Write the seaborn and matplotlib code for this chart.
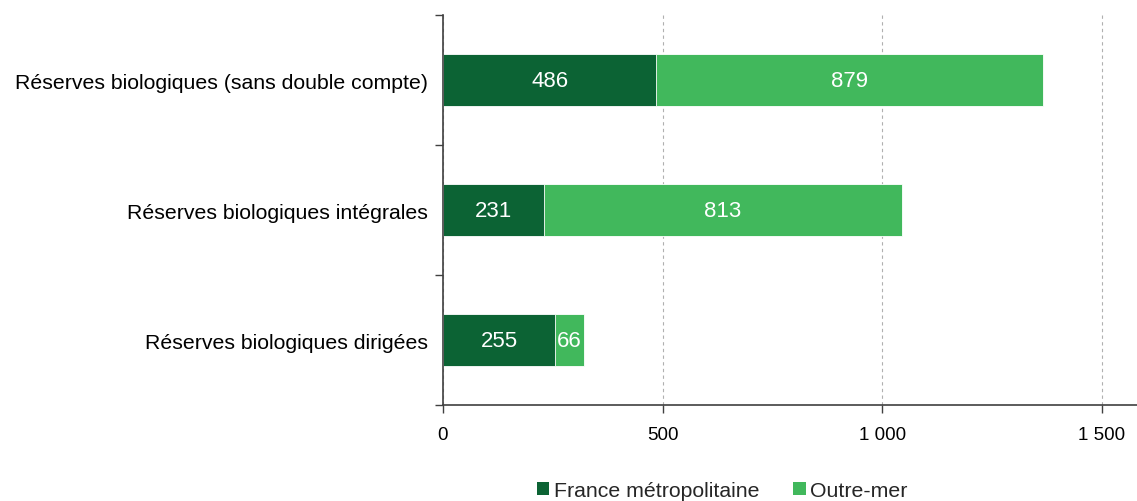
import matplotlib
matplotlib.use("Agg")
import matplotlib.pyplot as plt
import seaborn as sns
import pandas as pd
from matplotlib.patches import Patch
from matplotlib.ticker import FuncFormatter, FixedLocator

categories = ["Réserves biologiques (sans double compte)",
              "Réserves biologiques intégrales",
              "Réserves biologiques dirigées"]
metropole = [486, 231, 255]
outremer = [879, 813, 66]
series_names = ["France métropolitaine", "Outre-mer"]
x_ticks = [0, 500, 1000, 1500]

dark = "#0c6334"
light = "#41b85c"

sns.set_theme(style="white")
plt.rcParams['font.family'] = ['Liberation Sans', 'DejaVu Sans']

fig = plt.figure(figsize=(11.37, 5.02), dpi=100)
ax = fig.add_axes([0.3896, 0.1912, 0.6104, 0.7769])

df = pd.DataFrame({"cat": categories, "metro": metropole, "om": outremer})
df["total"] = df["metro"] + df["om"]

sns.barplot(data=df, x="total", y="cat", color=light, width=0.4, ax=ax,
            saturation=1, edgecolor="white", linewidth=0.6)
sns.barplot(data=df, x="metro", y="cat", color=dark, width=0.4, ax=ax,
            saturation=1, edgecolor="white", linewidth=0.6)

light_c, dark_c = ax.containers[0], ax.containers[1]
ax.bar_label(dark_c, labels=[str(v) for v in metropole], label_type="center",
             color="white", fontsize=16)
for rect, m, o in zip(light_c, metropole, outremer):
    y = rect.get_y() + rect.get_height() / 2
    ax.text(m + o / 2, y, str(o), ha="center", va="center", color="white", fontsize=16)

ax.set_xlim(0, 1580)
ax.set_ylim(2.5, -0.5)
ax.set_xlabel("")
ax.set_ylabel("")

ax.xaxis.set_major_locator(FixedLocator(x_ticks))
ax.xaxis.set_major_formatter(FuncFormatter(lambda v, p: f"{int(v):,}".replace(",", " ")))
ax.grid(axis="x", color="#b0b0b0", linestyle=(0, (3, 3)), linewidth=0.8)
ax.set_axisbelow(True)

ax.yaxis.set_minor_locator(FixedLocator([-0.5, 0.5, 1.5, 2.5]))
ax.tick_params(axis="y", which="major", length=0, pad=11, labelsize=15.3, colors="black")
ax.tick_params(axis="y", which="minor", length=6, width=1, color="#404040", left=True)
ax.tick_params(axis="x", which="major", length=6, width=1, color="#404040",
               bottom=True, labelsize=13.5, pad=9, colors="#404040", labelcolor="black")

for s in ["top", "right"]:
    ax.spines[s].set_visible(False)
for s in ["left", "bottom"]:
    ax.spines[s].set_color("#404040")
    ax.spines[s].set_linewidth(1.2)

handles = [Patch(facecolor=dark, edgecolor="none"), Patch(facecolor=light, edgecolor="none")]
fig.legend(handles, series_names, loc="upper center", bbox_to_anchor=(0.635, 0.04),
           ncol=2, frameon=False, fontsize=15.3, handlelength=0.6, handleheight=0.6,
           handletextpad=0.2, columnspacing=1.6, borderaxespad=0, borderpad=0)

fig.savefig("out.png", dpi=100)
